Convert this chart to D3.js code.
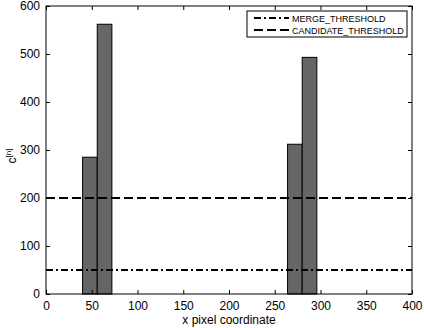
<!DOCTYPE html>
<html>
<head>
<meta charset="utf-8">
<style>
body { margin: 0; background: #fff; }
svg text { font-family: "Liberation Sans", Arial, sans-serif; }
</style>
</head>
<body>
<script src="https://d3js.org/d3.v7.min.js"></script>
<script>
// bar data: left edge, right edge, height
var binStart = [40, 56, 264, 280];
var binEnd = [56, 72, 280, 296];
var counts = [285, 562, 312, 493];

var thresholdNames = ['MERGE_THRESHOLD', 'CANDIDATE_THRESHOLD'];
var thresholdValues = [50, 200];
var thresholdDash = ['7,3,2,3', '9,4'];

var xTicks = [0, 50, 100, 150, 200, 250, 300, 350, 400];
var yTicks = [0, 100, 200, 300, 400, 500, 600];

var width = 424, height = 328;
var margin = { top: 6, right: 12, bottom: 34, left: 46 };

var svg = d3.select('body').append('svg')
  .attr('width', width)
  .attr('height', height);

var x = d3.scaleLinear().domain([0, 400]).range([margin.left, width - margin.right]);
var y = d3.scaleLinear().domain([0, 600]).range([height - margin.bottom, margin.top]);

// bars
svg.append('g')
  .selectAll('rect')
  .data(counts)
  .enter()
  .append('rect')
  .attr('x', function(d, i) { return x(binStart[i]); })
  .attr('width', function(d, i) { return x(binEnd[i]) - x(binStart[i]); })
  .attr('y', function(d) { return y(d); })
  .attr('height', function(d) { return y(0) - y(d); })
  .attr('fill', '#666666')
  .attr('stroke', '#000')
  .attr('stroke-width', 1);

// threshold lines
svg.append('g')
  .selectAll('line')
  .data(thresholdValues)
  .enter()
  .append('line')
  .attr('x1', x(0))
  .attr('x2', x(400))
  .attr('y1', function(d) { return y(d); })
  .attr('y2', function(d) { return y(d); })
  .attr('stroke', '#000')
  .attr('stroke-width', 2)
  .attr('stroke-dasharray', function(d, i) { return thresholdDash[i]; });

// axes (ticks inside, box)
var tickLen = 4;
var xAxis = d3.axisBottom(x).tickValues(xTicks).tickSizeInner(-tickLen).tickSizeOuter(0).tickPadding(7);
var yAxis = d3.axisLeft(y).tickValues(yTicks).tickSizeInner(-tickLen).tickSizeOuter(0).tickPadding(6);
var xTop = d3.axisTop(x).tickValues(xTicks).tickSizeInner(-tickLen).tickSizeOuter(0).tickFormat('');
var yRight = d3.axisRight(y).tickValues(yTicks).tickSizeInner(-tickLen).tickSizeOuter(0).tickFormat('');

function style(g) {
  g.select('.domain').remove();
  g.selectAll('line').attr('stroke', '#000');
  g.selectAll('text').attr('fill', '#000').style('font-size', '12px');
}

svg.append('g').attr('transform', 'translate(0,' + y(0) + ')').call(xAxis).call(style);
svg.append('g').attr('transform', 'translate(' + x(0) + ',0)').call(yAxis).call(style);
svg.append('g').attr('transform', 'translate(0,' + y(600) + ')').call(xTop).call(style);
svg.append('g').attr('transform', 'translate(' + x(400) + ',0)').call(yRight).call(style);

svg.append('rect')
  .attr('x', x(0)).attr('y', y(600))
  .attr('width', x(400) - x(0)).attr('height', y(0) - y(600))
  .attr('fill', 'none').attr('stroke', '#000').attr('stroke-width', 1);

// axis labels
svg.append('text')
  .attr('x', (x(0) + x(400)) / 2)
  .attr('y', 324)
  .attr('text-anchor', 'middle')
  .style('font-size', '12px')
  .text('x pixel coordinate');

var yl = svg.append('text')
  .attr('transform', 'translate(16,' + (y(300) + 6) + ') rotate(-90)')
  .attr('text-anchor', 'middle')
  .style('font-size', '12px');
yl.append('tspan').text('c');
yl.append('tspan').attr('dy', -5).style('font-size', '8px').text('[n]');

// legend
var lx = 247, ly = 11, lw = 160, lh = 26;
var legend = svg.append('g');
legend.append('rect')
  .attr('x', lx).attr('y', ly).attr('width', lw).attr('height', lh)
  .attr('fill', '#fff').attr('stroke', '#000').attr('stroke-width', 1);

var items = legend.selectAll('g.item')
  .data(thresholdNames)
  .enter()
  .append('g')
  .attr('transform', function(d, i) { return 'translate(' + lx + ',' + (ly + 7 + i * 12) + ')'; });

items.append('line')
  .attr('x1', 7).attr('x2', 42)
  .attr('y1', 0).attr('y2', 0)
  .attr('stroke', '#000').attr('stroke-width', 2)
  .attr('stroke-dasharray', function(d, i) { return thresholdDash[i]; });

items.append('text')
  .attr('x', 45).attr('y', 3.5)
  .style('font-size', '9px')
  .text(function(d) { return d; });
</script>
</body>
</html>
